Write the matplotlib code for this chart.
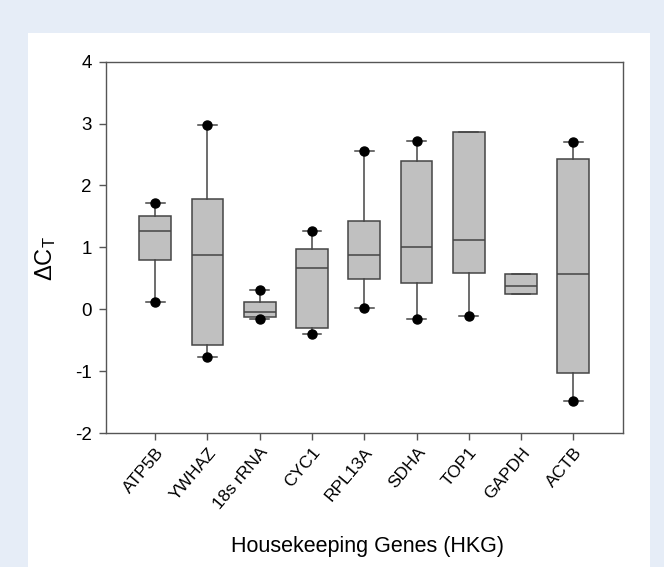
import numpy as np
import matplotlib
matplotlib.use('Agg')
import matplotlib.pyplot as plt
from matplotlib.patches import Rectangle

plt.rcParams['font.family'] = ['Liberation Sans', 'DejaVu Sans']
plt.rcParams['mathtext.fontset'] = 'custom'
plt.rcParams['mathtext.rm'] = 'Liberation Sans'
plt.rcParams['mathtext.it'] = 'Liberation Sans:italic'
plt.rcParams['axes.unicode_minus'] = False

# Datos (Delta Ct por gen)
genes = ['ATP5B', 'YWHAZ', '18s rRNA', 'CYC1', 'RPL13A', 'SDHA', 'TOP1', 'GAPDH', 'ACTB']
whisker_low = [0.11, -0.77, -0.16, -0.40, 0.02, -0.15, -0.11, 0.25, -1.48]
q1 = [0.80, -0.57, -0.12, -0.31, 0.49, 0.43, 0.58, 0.25, -1.03]
median = [1.26, 0.88, -0.05, 0.67, 0.88, 1.01, 1.12, 0.38, 0.57]
q3 = [1.50, 1.78, 0.12, 0.97, 1.43, 2.39, 2.86, 0.57, 2.43]
whisker_high = [1.71, 2.97, 0.31, 1.27, 2.56, 2.71, 2.87, 0.57, 2.70]
# puntos en los extremos (TOP1 sin punto arriba, GAPDH sin puntos)
dots = [[0.11, 1.71], [-0.77, 2.97], [-0.16, 0.31], [-0.40, 1.27], [0.02, 2.56],
        [-0.15, 2.71], [-0.11], [], [-1.48, 2.70]]

fig = plt.figure(figsize=(6.64, 5.67), dpi=100, facecolor='#e6edf7')
fig.patches.append(Rectangle((28 / 664, 0), (650 - 28) / 664, 1 - 33 / 567,
                             transform=fig.transFigure, facecolor='white',
                             edgecolor='none', zorder=-10))

ax = fig.add_axes([0.159, 0.2363, 0.78, 0.655])
ax.set_facecolor('white')

stats = []
for i in range(len(genes)):
    stats.append({'whislo': whisker_low[i], 'q1': q1[i], 'med': median[i],
                  'q3': q3[i], 'whishi': whisker_high[i], 'fliers': dots[i]})

edge = '#454545'
ax.bxp(stats, positions=np.arange(1, len(genes) + 1), widths=0.61,
       patch_artist=True, showfliers=True, capwidths=0.36,
       boxprops=dict(facecolor='#c0c0c0', edgecolor=edge, linewidth=1.1),
       medianprops=dict(color=edge, linewidth=1.1),
       whiskerprops=dict(color=edge, linewidth=1.1),
       capprops=dict(color=edge, linewidth=1.1),
       flierprops=dict(marker='o', markerfacecolor='black', markeredgecolor='black',
                       markersize=6.5))

ax.set_xlim(0.05, 9.96)
ax.set_ylim(-2, 4)
ax.set_yticks(np.arange(-2, 5, 1))
ax.set_xticks(np.arange(1, len(genes) + 1))
ax.set_xticklabels(genes, rotation=50, ha='right', rotation_mode='anchor', fontsize=12.5)
ax.tick_params(axis='y', labelsize=13.5, pad=5)
ax.tick_params(direction='out', length=5, color='#555555', width=1)

for s in ax.spines.values():
    s.set_color('#555555')
    s.set_linewidth(1)

ax.set_xlabel('Housekeeping Genes (HKG)', fontsize=15.5)
ax.xaxis.set_label_coords(0.505, -0.277)
ax.set_ylabel(r'$\Delta\mathrm{C}_{\mathrm{T}}$', fontsize=17)
ax.yaxis.set_label_coords(-0.092, 0.47)

fig.savefig('out.png', dpi=100, facecolor=fig.get_facecolor())
